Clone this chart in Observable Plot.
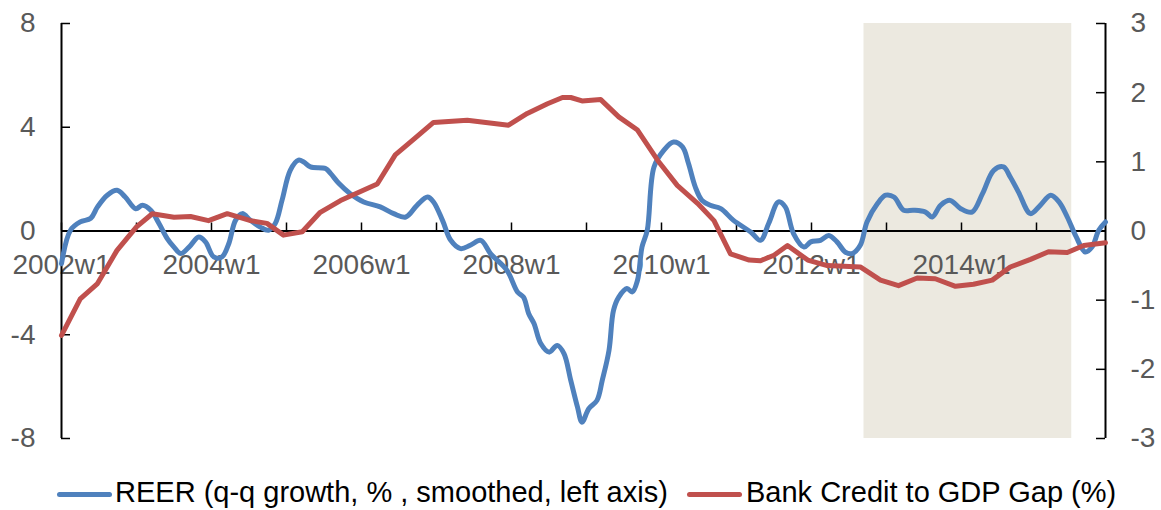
<!DOCTYPE html>
<html>
<head>
<meta charset="utf-8">
<script src="https://cdn.jsdelivr.net/npm/d3@7"></script>
<script src="https://cdn.jsdelivr.net/npm/@observablehq/plot@0.6"></script>
<style>
  html, body { margin: 0; padding: 0; background: #fff; }
  body { font-family: "Liberation Sans", Arial, sans-serif; width: 1161px; height: 510px; overflow: hidden; }
  #legend { position: relative; height: 55px; width: 1161px; }
  .lg-text { position: absolute; top: 22.5px; font-size: 29px; line-height: 29px; color: #000; white-space: nowrap; }
  .lg-swatch { position: absolute; top: 36.5px; height: 5px; border-radius: 3px; }
</style>
</head>
<body>
<div id="chart"></div>
<div id="legend"></div>
<script>
// ---- data (decimal years; week 1 of year Y = Y.0) ----
const reerDates = [2002.00,2002.12,2002.25,2002.39,2002.48,2002.61,2002.74,2002.85,2002.99,2003.08,2003.19,2003.30,2003.41,2003.50,2003.59,2003.70,2003.83,2003.92,2004.03,2004.14,2004.23,2004.32,2004.41,2004.52,2004.65,2004.76,2004.85,2004.94,2005.05,2005.16,2005.23,2005.32,2005.52,2005.59,2005.70,2005.85,2006.03,2006.25,2006.43,2006.59,2006.74,2006.88,2006.96,2007.08,2007.19,2007.32,2007.45,2007.59,2007.72,2007.94,2008.08,2008.16,2008.23,2008.30,2008.39,2008.50,2008.61,2008.70,2008.79,2008.88,2008.94,2009.03,2009.14,2009.21,2009.30,2009.36,2009.43,2009.54,2009.61,2009.68,2009.74,2009.81,2009.90,2010.03,2010.16,2010.28,2010.36,2010.45,2010.54,2010.65,2010.79,2010.96,2011.19,2011.32,2011.43,2011.56,2011.65,2011.76,2011.90,2011.99,2012.12,2012.23,2012.34,2012.45,2012.54,2012.65,2012.74,2012.88,2012.99,2013.10,2013.23,2013.36,2013.52,2013.61,2013.72,2013.85,2013.99,2014.14,2014.28,2014.43,2014.56,2014.65,2014.76,2014.92,2015.05,2015.19,2015.30,2015.41,2015.53,2015.65,2015.74,2015.83,2015.92];
const reerValues = [-1.26,0.03,0.35,0.49,0.93,1.38,1.57,1.31,0.86,0.99,0.80,0.29,-0.29,-0.62,-0.87,-0.62,-0.23,-0.42,-1.00,-1.00,-0.49,0.41,0.67,0.41,0.15,0.03,0.29,1.18,2.34,2.73,2.66,2.47,2.41,2.21,1.83,1.44,1.12,0.93,0.67,0.54,0.99,1.31,1.12,0.41,-0.36,-0.68,-0.55,-0.36,-0.87,-1.52,-2.35,-2.55,-3.19,-3.57,-4.34,-4.67,-4.41,-4.73,-5.76,-6.79,-7.37,-6.85,-6.53,-5.76,-4.60,-3.06,-2.55,-2.22,-2.35,-1.90,-0.62,0.03,2.47,3.11,3.43,3.24,2.60,1.70,1.18,0.99,0.86,0.41,-0.04,-0.36,0.30,1.12,0.93,-0.10,-0.62,-0.42,-0.36,-0.17,-0.42,-0.81,-0.87,-0.55,0.35,1.06,1.38,1.31,0.80,0.80,0.73,0.54,0.99,1.18,0.86,0.73,1.44,2.34,2.47,2.08,1.50,0.67,0.99,1.38,1.12,0.54,-0.23,-0.81,-0.62,0.03,0.35];

const creditDates = [2002.00,2002.25,2002.48,2002.74,2003.00,2003.21,2003.50,2003.72,2003.96,2004.21,2004.52,2004.74,2004.96,2005.21,2005.45,2005.72,2006.21,2006.45,2006.71,2006.96,2007.41,2007.96,2008.21,2008.48,2008.68,2008.79,2008.94,2009.19,2009.43,2009.68,2009.95,2010.21,2010.48,2010.70,2010.92,2011.17,2011.32,2011.50,2011.68,2011.95,2012.21,2012.65,2012.92,2013.16,2013.41,2013.65,2013.92,2014.16,2014.41,2014.65,2014.92,2015.16,2015.41,2015.63,2015.92];
const creditValues = [-1.51,-0.98,-0.76,-0.28,0.06,0.25,0.20,0.21,0.15,0.25,0.15,0.11,-0.06,-0.01,0.27,0.44,0.68,1.10,1.34,1.57,1.60,1.53,1.70,1.84,1.93,1.93,1.88,1.90,1.65,1.46,1.02,0.66,0.40,0.15,-0.33,-0.42,-0.43,-0.35,-0.21,-0.42,-0.50,-0.52,-0.71,-0.79,-0.68,-0.69,-0.80,-0.77,-0.71,-0.52,-0.41,-0.30,-0.31,-0.21,-0.17];

const shadeStart = 2012.70;   // ~2012w37
const shadeEnd = 2015.47;     // ~2015w25
const xDomain = [2002.0, 2015.92];

const leftTicks = [-8, -4, 0, 4, 8];
const rightTicks = [-3, -2, -1, 0, 1, 2, 3];
const yearTicks = [2002,2003,2004,2005,2006,2007,2008,2009,2010,2011,2012,2013,2014,2015];
const xLabelYears = [2002, 2004, 2006, 2008, 2010, 2012, 2014];
const xLabels = ["2002w1","2004w1","2006w1","2008w1","2010w1","2012w1","2014w1"];

const seriesNames = ["REER (q-q growth, % , smoothed, left axis)", "Bank Credit to GDP Gap (%)"];
const seriesColors = ["#4F81BD", "#C0504D"];

// secondary axis (-3..3) mapped onto primary (-8..8)
const ratio = 8 / 3;

const reer = reerDates.map((d, i) => ({x: d, y: reerValues[i]}));
const credit = creditDates.map((d, i) => ({x: d, y: creditValues[i] * ratio}));
const xlab = xLabelYears.map((d, i) => ({x: d, label: xLabels[i]}));

const axisColor = "#000";
const labelColor = "#595959";

const chart = Plot.plot({
  width: 1161,
  height: 455,
  marginTop: 23,
  marginBottom: 17,
  marginLeft: 61,
  marginRight: 56,
  style: {fontFamily: '"Liberation Sans", Arial, sans-serif', background: "#fff"},
  x: {domain: xDomain, axis: null},
  y: {domain: [-8, 8], axis: null},
  marks: [
    Plot.rect([{x1: shadeStart, x2: shadeEnd}], {x1: "x1", x2: "x2", fill: "#ECE9E0"}),
    // zero axis line and year ticks
    Plot.ruleY([0], {stroke: axisColor, strokeWidth: 2}),
    Plot.ruleX(yearTicks, {x: d => d, y1: 0, y2: 0, insetTop: -8, stroke: axisColor, strokeWidth: 1.5}),
    Plot.text(xlab, {x: "x", y: 0, text: "label", dy: 34, fontSize: 28, fill: labelColor}),
    // left axis
    Plot.ruleX([xDomain[0]], {stroke: axisColor, strokeWidth: 2}),
    Plot.ruleY(leftTicks, {y: d => d, x1: xDomain[0], x2: xDomain[0], insetRight: -9, stroke: axisColor, strokeWidth: 1.5}),
    Plot.axisY(leftTicks, {anchor: "left", label: null, tickSize: 0, tickPadding: 26, fontSize: 28, fill: labelColor, tickFormat: d => String(d)}),
    // right axis
    Plot.ruleX([xDomain[1]], {stroke: axisColor, strokeWidth: 2}),
    Plot.ruleY(rightTicks, {y: d => d * ratio, x1: xDomain[1], x2: xDomain[1], insetLeft: -9, stroke: axisColor, strokeWidth: 1.5}),
    Plot.axisY(rightTicks.map(d => d * ratio), {anchor: "right", label: null, tickSize: 0, tickPadding: 25, fontSize: 28, fill: labelColor, tickFormat: d => String(Math.round(d / ratio))}),
    // series
    Plot.line(reer, {x: "x", y: "y", stroke: seriesColors[0], strokeWidth: 5, curve: "catmull-rom", strokeLinecap: "round", strokeLinejoin: "round"}),
    Plot.line(credit, {x: "x", y: "y", stroke: seriesColors[1], strokeWidth: 5, strokeLinecap: "round", strokeLinejoin: "round"})
  ]
});
document.getElementById("chart").appendChild(chart);

// legend (below the SVG)
const legend = document.getElementById("legend");
const legendLayout = [
  {swatchLeft: 57, swatchWidth: 55, textLeft: 115},
  {swatchLeft: 687, swatchWidth: 55, textLeft: 746}
];
seriesNames.forEach((name, i) => {
  const sw = document.createElement("div");
  sw.className = "lg-swatch";
  sw.style.left = legendLayout[i].swatchLeft + "px";
  sw.style.width = legendLayout[i].swatchWidth + "px";
  sw.style.background = seriesColors[i];
  legend.appendChild(sw);
  const tx = document.createElement("div");
  tx.className = "lg-text";
  tx.style.left = legendLayout[i].textLeft + "px";
  tx.textContent = name;
  legend.appendChild(tx);
});
</script>
</body>
</html>
